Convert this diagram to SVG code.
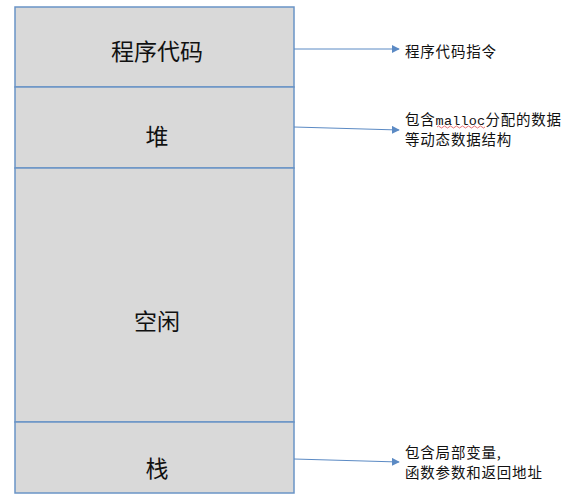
<svg xmlns="http://www.w3.org/2000/svg" width="572" height="495" viewBox="0 0 572 495">
<defs>
<style>
.seg{fill:#d9d9d9;stroke:#6a94c6;stroke-width:1.5}
.big{font-family:"Noto Sans CJK SC","Liberation Sans",sans-serif;font-size:23px;fill:#111;text-anchor:middle;dominant-baseline:central}
.note{font-family:"Noto Sans CJK SC","Liberation Sans",sans-serif;font-size:14.5px;letter-spacing:0.8px;fill:#111}
.mono{font-family:"Liberation Mono","DejaVu Sans Mono",monospace;font-size:13.5px;letter-spacing:0.2px}
.conn{stroke:#5b8ac4;stroke-width:1;fill:none;marker-end:url(#ah)}
</style>
<marker id="ah" viewBox="0 0 10 10" refX="9" refY="5" markerWidth="8" markerHeight="8" markerUnits="userSpaceOnUse" orient="auto">
<path d="M0,0 L10,5 L0,10 z" fill="#5b8ac4"/>
</marker>
</defs>
<rect width="572" height="495" fill="#fff"/>
<g id="code"><rect class="seg" x="15" y="7" width="279" height="80"/><text class="big" x="157" y="50">程序代码</text></g>
<g id="heap"><rect class="seg" x="15" y="87" width="279" height="81"/><text class="big" x="157" y="135">堆</text></g>
<g id="free"><rect class="seg" x="15" y="168" width="279" height="254"/><text class="big" x="157" y="320">空闲</text></g>
<g id="stack"><rect class="seg" x="15" y="422" width="279" height="71"/><text class="big" x="157" y="467">栈</text></g>
<g id="connectors">
<line class="conn" x1="294" y1="49" x2="399" y2="49"/>
<line class="conn" x1="294" y1="127" x2="399" y2="130"/>
<line class="conn" x1="294" y1="459" x2="399" y2="462"/>
</g>
<g id="note-code"><text class="note" x="405" y="57">程序代码指令</text></g>
<g id="note-heap"><text class="note" x="405" y="124.5">包含<tspan class="mono">malloc</tspan>分配的数据</text><text class="note" x="405" y="144.5">等动态数据结构</text>
<path d="M437,127 q1.5,-2 3,0 t3,0 t3,0 t3,0 t3,0 t3,0 t3,0 t3,0 t3,0 t3,0 t3,0 t3,0 t3,0 t3,0 t3,0 t3,0" stroke="#e05050" stroke-width="0.8" fill="none"/></g>
<g id="note-stack"><text class="note" x="405" y="458">包含局部变量,</text><text class="note" x="405" y="477.5">函数参数和返回地址</text></g>
</svg>
